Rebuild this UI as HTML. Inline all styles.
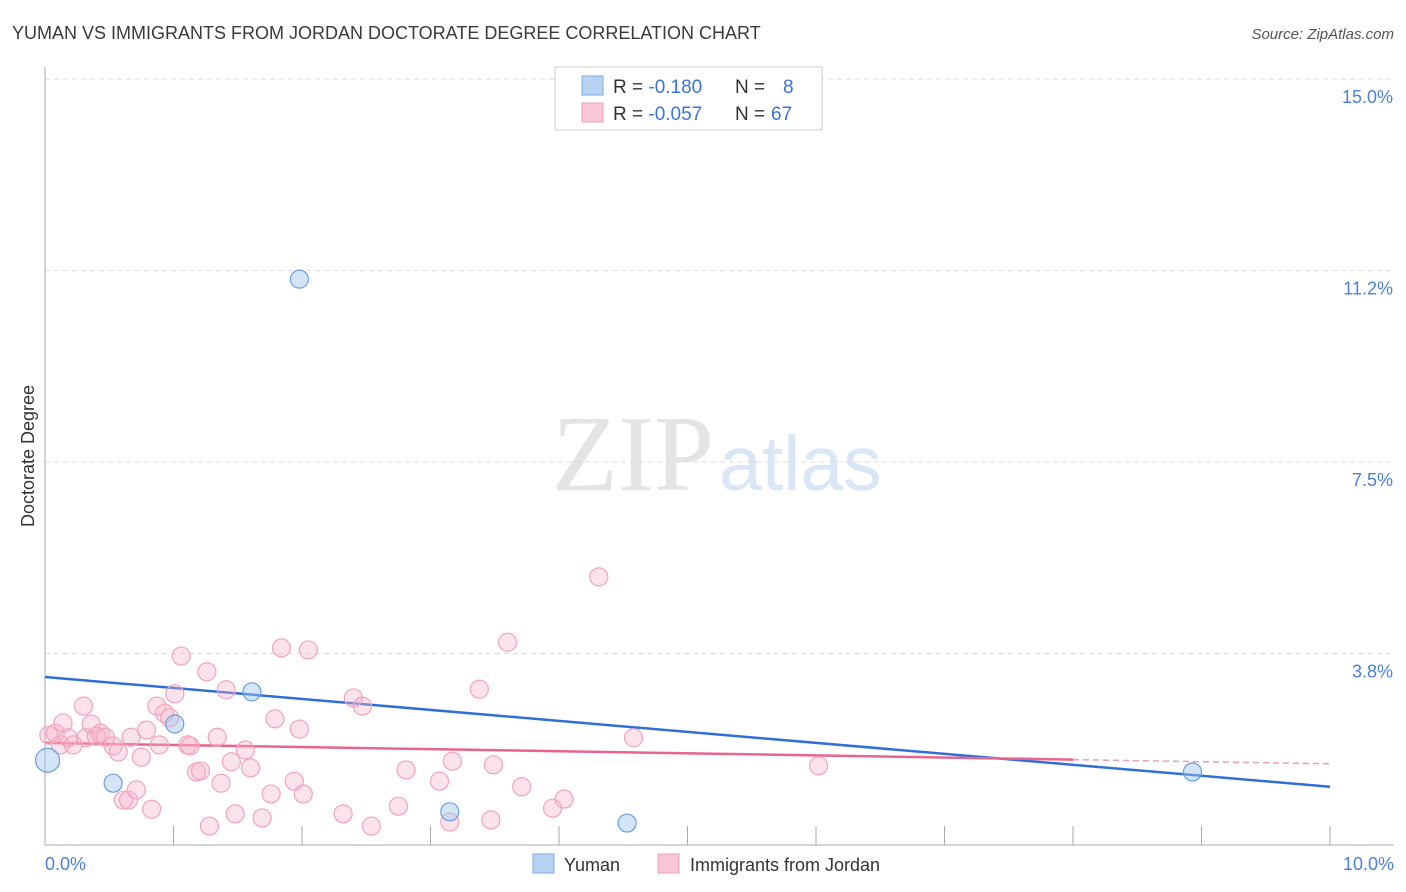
<!DOCTYPE html>
<html><head><meta charset="utf-8"><style>
body{margin:0;background:#fff;font-family:"Liberation Sans",sans-serif;}
svg{display:block}
</style></head><body>
<svg id="chart" width="1406" height="892">
<text x="12" y="39" font-size="18" fill="#3a3a3a">YUMAN VS IMMIGRANTS FROM JORDAN DOCTORATE DEGREE CORRELATION CHART</text>
<text x="1394" y="39" font-size="15" fill="#555" font-style="italic" text-anchor="end">Source: ZipAtlas.com</text>
<text x="714" y="490" font-size="108" fill="#e4e4e4" text-anchor="end" font-family="Liberation Serif">ZIP</text>
<text x="719" y="490" font-size="77" fill="#d9e6f6">atlas</text>
<g id="grid"></g>
<g id="axes"></g>
<g id="trends"></g>
<g id="points"></g>
<text transform="translate(34,456) rotate(-90)" font-size="18" fill="#333" text-anchor="middle">Doctorate Degree</text>
<text x="45" y="870" font-size="18" fill="#4a80d8">0.0%</text>
<text x="1394" y="870" font-size="18" fill="#4a80d8" text-anchor="end">10.0%</text>
<g>
<rect x="555" y="67" width="267" height="63" fill="#fff" stroke="#ccc"/>
<rect x="582" y="76" width="21" height="19" fill="#b9d3f3" stroke="#7aa8e0"/>
<rect x="582" y="103" width="21" height="19" fill="#f9c6d6" stroke="#eea0b8"/>
<text x="613" y="93" font-size="19" fill="#333">R = <tspan fill="#3a74d8">-0.180</tspan><tspan x="735">N = </tspan><tspan x="783" fill="#3a74d8">8</tspan></text>
<text x="613" y="120" font-size="19" fill="#333">R = <tspan fill="#3a74d8">-0.057</tspan><tspan x="735">N = </tspan><tspan x="771" fill="#3a74d8">67</tspan></text>
</g>
<g>
<rect x="533" y="854" width="21" height="19" fill="#b9d3f3" stroke="#7aa8e0"/>
<text x="564" y="871" font-size="18" fill="#333">Yuman</text>
</g>
<g>
<rect x="658" y="854" width="21" height="19" fill="#f9c6d6" stroke="#eea0b8"/>
<text x="690" y="871" font-size="18" fill="#333">Immigrants from Jordan</text>
</g>
</svg>
<script>
const yTicks=[15.0,11.25,7.5,3.75];
const yTickLabels=["15.0%","11.2%","7.5%","3.8%"];
const xTicks=[0,1,2,3,4,5,6,7,8,9,10];
const yumanX=[0.02,0.53,1.01,1.61,1.98,3.15,4.53,8.93];
const yumanY=[1.66,1.21,2.37,3.00,11.08,0.65,0.43,1.43];
const jordanX=[0.03,0.08,0.12,0.14,0.18,0.22,0.30,0.32,0.36,0.40,0.43,0.47,0.53,0.57,0.61,0.65,0.67,0.71,0.75,0.79,0.83,0.87,0.89,0.93,0.97,1.01,1.06,1.11,1.13,1.18,1.21,1.26,1.28,1.34,1.37,1.41,1.45,1.48,1.56,1.60,1.69,1.76,1.79,1.84,1.94,1.98,2.01,2.05,2.32,2.40,2.47,2.54,2.75,2.81,3.07,3.15,3.17,3.38,3.47,3.49,3.60,3.71,3.95,4.04,4.31,4.58,6.02];
const jordanY=[2.15,2.19,1.96,2.39,2.10,1.96,2.72,2.10,2.37,2.13,2.19,2.11,1.94,1.82,0.88,0.88,2.11,1.08,1.72,2.25,0.70,2.72,1.96,2.58,2.49,2.96,3.70,1.96,1.94,1.43,1.45,3.39,0.37,2.11,1.21,3.04,1.63,0.61,1.86,1.51,0.53,1.00,2.47,3.86,1.25,2.27,1.00,3.82,0.61,2.88,2.72,0.37,0.76,1.47,1.25,0.45,1.64,3.05,0.49,1.57,3.97,1.14,0.72,0.90,5.25,2.10,1.55];
const yumanTrend=[3.29,1.14];
const jordanTrend=[2.00,1.59];
const jordanSolidEnd=8.0;

const NS="http://www.w3.org/2000/svg";
const X=v=>45+v*128.5, Y=v=>845-v*51.07;
function mk(tag,attrs,parent){const e=document.createElementNS(NS,tag);for(const k in attrs)e.setAttribute(k,attrs[k]);document.getElementById(parent).appendChild(e);return e;}
yTicks.forEach((t,i)=>{
  const l=mk('line',{x1:45,x2:1394,y1:Y(t),y2:Y(t),stroke:'#ddd','stroke-dasharray':'5,4'},'grid');
  
  
  const tx=mk('text',{x:1393,y:Y(t)+24,'font-size':18,fill:'#4a80d8','text-anchor':'end'},'grid');
  tx.textContent=yTickLabels[i];
  
  
});
const ax=mk('line',{x1:45,x2:1394,y1:845,y2:845,stroke:'#aaa'},'axes');


const ay=mk('line',{x1:45,x2:45,y1:67,y2:845,stroke:'#aaa'},'axes');


xTicks.forEach(t=>{
  const l=mk('line',{x1:X(t),x2:X(t),y1:826,y2:845,stroke:'#aaa'},'axes');
  
  
});
const bt=mk('line',{x1:X(0),y1:Y(yumanTrend[0]),x2:X(10),y2:Y(yumanTrend[1]),stroke:'#2f6fd6','stroke-width':2.5},'trends');


const jy=v=>jordanTrend[0]+(jordanTrend[1]-jordanTrend[0])*v/10;
const pt=mk('line',{x1:X(0),y1:Y(jy(0)),x2:X(jordanSolidEnd),y2:Y(jy(jordanSolidEnd)),stroke:'#e8648c','stroke-width':2.5},'trends');


const pd=mk('line',{x1:X(jordanSolidEnd),y1:Y(jy(jordanSolidEnd)),x2:X(10),y2:Y(jy(10)),stroke:'#e8a0b8','stroke-width':1.5,'stroke-dasharray':'6,4'},'trends');


jordanX.forEach((x,i)=>{
  const c=mk('circle',{cx:X(x),cy:Y(jordanY[i]),r:9,fill:'rgba(247,175,198,0.35)',stroke:'#f0a4bc','stroke-width':1.2},'points');
  
  
});
yumanX.forEach((x,i)=>{
  const c=mk('circle',{cx:X(x),cy:Y(yumanY[i]),r:i===0?12:9,fill:'rgba(160,198,240,0.45)',stroke:'#6a9ee0','stroke-width':1.2},'points');
  
  
});
</script>
</body></html>
